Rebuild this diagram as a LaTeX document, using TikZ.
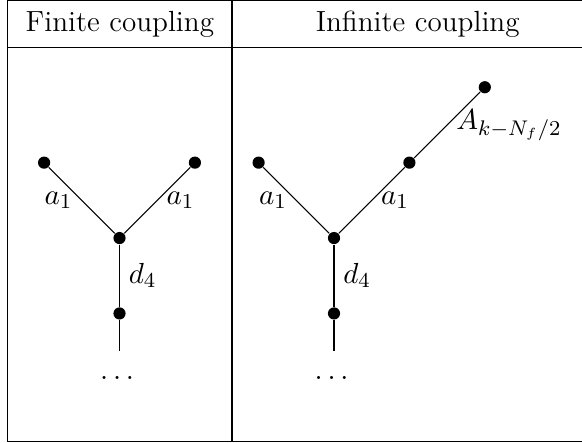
\documentclass[tikz,border=0pt]{standalone}
\usepackage{amsmath}
\usepackage{tikz}
\usetikzlibrary{positioning}
\tikzset{
    vertex/.style={circle, fill=black, inner sep=0pt, minimum size=4.6pt},
    tablerule/.style={black, line width=0.4pt},
    colhead/.style={anchor=base},
}

\begin{document}
\begin{tikzpicture}[
    node distance=1cm and 1cm, on grid,
    font=\fontsize{11}{13.2}\selectfont,
    edge/.style={black, line width=0.4pt},
]
\useasboundingbox (0,0) rectangle (7.719,-5.875);

% Table rules
\coordinate (tab-nw) at (0.1,-0.01);
\coordinate (tab-ne) at (8.01,-0.01);
\coordinate (tab-sw) at (0.1,-5.855);
\coordinate (tab-se) at (8.01,-5.855);
\coordinate (tab-split-n) at (3.077,-0.01);
\coordinate (tab-split-s) at (3.077,-5.855);
\coordinate (tab-head-w) at (0.1,-0.63);
\coordinate (tab-head-e) at (8.01,-0.63);
\draw[tablerule] (tab-ne) -- (tab-nw) -- (tab-sw) -- (tab-se);
\draw[tablerule] (tab-split-n) -- (tab-split-s);
\draw[tablerule] (tab-head-w) -- (tab-head-e);

% Column headers
\node[colhead] (head-fin) at (1.59,-0.42) {Finite coupling};
\node[colhead] (head-inf) at (5.54,-0.42) {Infinite coupling};

% Finite coupling graph
\node[vertex] (fin-mid) at (1.585,-3.157) {};
\node[vertex, above left=of fin-mid] (fin-left) {};
\node[vertex, above right=of fin-mid] (fin-right) {};
\node[vertex, below=of fin-mid] (fin-low) {};
\coordinate[below=0.5cm of fin-low] (fin-tail);
\node[anchor=base] (fin-dots) at ([yshift=-0.88cm]fin-low) {$\dots$};
\draw[edge] (fin-mid) -- node[left] {$a_1$} (fin-left);
\draw[edge] (fin-mid) -- node[right] {$a_1$} (fin-right);
\draw[edge] (fin-mid) -- node[right] {$d_4$} (fin-low);
\draw[edge] (fin-low) -- (fin-tail);

% Infinite coupling graph
\node[vertex] (inf-mid) at (4.43,-3.157) {};
\node[vertex, above left=of inf-mid] (inf-left) {};
\node[vertex, above right=of inf-mid] (inf-right) {};
\node[vertex, above right=of inf-right] (inf-top) {};
\node[vertex, below=of inf-mid] (inf-low) {};
\coordinate[below=0.5cm of inf-low] (inf-tail);
\node[anchor=base] (inf-dots) at ([yshift=-0.88cm]inf-low) {$\dots$};
\draw[edge] (inf-mid) -- node[left] {$a_1$} (inf-left);
\draw[edge] (inf-mid) -- node[right] {$a_1$} (inf-right);
\draw[edge] (inf-right) -- node[right] {$A_{k-N_f/2}$} (inf-top);
\draw[edge] (inf-mid) -- node[right] {$d_4$} (inf-low);
\draw[edge] (inf-low) -- (inf-tail);

\end{tikzpicture}
\end{document}
